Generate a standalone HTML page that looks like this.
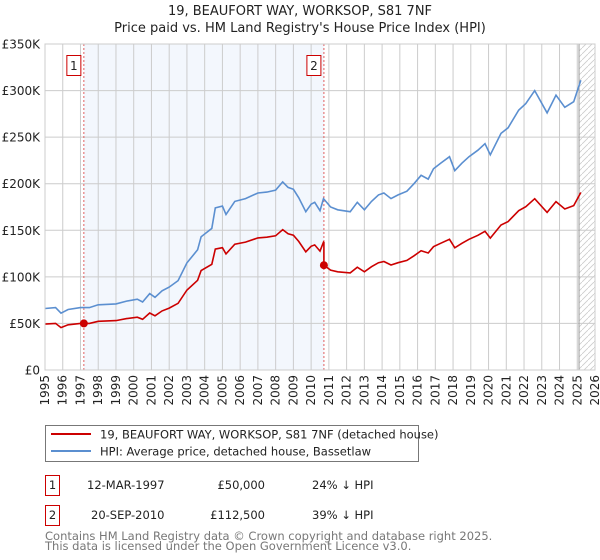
<!DOCTYPE html>
<html><head><meta charset="utf-8">
<style>
body{margin:0;background:#fff;font-family:"DejaVu Sans","Liberation Sans",sans-serif;}
svg{display:block}
text{font-family:"DejaVu Sans","Liberation Sans",sans-serif;}
</style></head>
<body>
<svg id="chart" width="600" height="560" viewBox="0 0 600 560">
<g id="title">
<text x="300" y="15" text-anchor="middle" font-size="13" fill="#222">19, BEAUFORT WAY, WORKSOP, S81 7NF</text>
<text x="300" y="32" text-anchor="middle" font-size="13" fill="#222">Price paid vs. HM Land Registry's House Price Index (HPI)</text>
</g>
<g id="plot"></g>
<g id="legend">
<rect x="45.5" y="425.5" width="373" height="36" fill="#fff" stroke="#777"/>
<line x1="51" y1="434" x2="91" y2="434" stroke="#cc0000" stroke-width="2"/>
<text x="100" y="438.5" font-size="11.5" fill="#222">19, BEAUFORT WAY, WORKSOP, S81 7NF (detached house)</text>
<line x1="51" y1="451" x2="91" y2="451" stroke="#5b8fd0" stroke-width="2"/>
<text x="100" y="455.5" font-size="11.5" fill="#222">HPI: Average price, detached house, Bassetlaw</text>
</g>
<g id="table" font-size="11.5" fill="#222">
<rect x="45.5" y="475.5" width="14" height="20" fill="#fff" stroke="#cc0000"/>
<text x="52.5" y="489" text-anchor="middle">1</text>
<text x="87" y="489">12-MAR-1997</text>
<text x="265" y="489" text-anchor="end">£50,000</text>
<text x="312" y="489">24% ↓ HPI</text>
<rect x="45.5" y="505.5" width="14" height="20" fill="#fff" stroke="#cc0000"/>
<text x="52.5" y="519" text-anchor="middle">2</text>
<text x="91" y="519">20-SEP-2010</text>
<text x="265" y="519" text-anchor="end">£112,500</text>
<text x="312" y="519">39% ↓ HPI</text>
</g>
<g font-size="11.5" fill="#777">
<text x="45" y="540">Contains HM Land Registry data © Crown copyright and database right 2025.</text>
<text x="45" y="550">This data is licensed under the Open Government Licence v3.0.</text>
</g>
</svg>
<script>
const yearTicks=[1995,1996,1997,1998,1999,2000,2001,2002,2003,2004,2005,2006,2007,2008,2009,2010,2011,2012,2013,2014,2015,2016,2017,2018,2019,2020,2021,2022,2023,2024,2025,2026];
const priceTicks=[0,50000,100000,150000,200000,250000,300000,350000];
const priceTickLabels=["£0","£50K","£100K","£150K","£200K","£250K","£300K","£350K"];
const hpiYears=[1995.0,1995.6,1995.9,1996.3,1997.0,1997.5,1998.0,1999.0,1999.6,2000.2,2000.5,2000.9,2001.2,2001.6,2002.0,2002.5,2003.0,2003.6,2003.8,2004.4,2004.6,2005.0,2005.2,2005.7,2006.3,2007.0,2007.5,2008.0,2008.4,2008.7,2009.0,2009.3,2009.7,2010.0,2010.2,2010.5,2010.7,2011.1,2011.5,2012.2,2012.6,2013.0,2013.4,2013.8,2014.1,2014.5,2014.9,2015.4,2015.8,2016.2,2016.6,2016.9,2017.3,2017.8,2018.1,2018.5,2018.9,2019.4,2019.8,2020.1,2020.7,2021.1,2021.7,2022.1,2022.6,2023.3,2023.8,2024.3,2024.8,2025.2];
const hpiValues=[66,67,61,65,67,67,70,71,74,76,73,82,78,85,89,96,115,129,143,152,174,176,167,181,184,190,191,193,202,196,194,185,170,178,180,171,184,175,172,170,180,172,181,188,190,184,188,192,200,209,205,216,222,229,214,222,229,236,243,231,254,260,279,286,300,276,295,282,288,311];
const saleYears=[1997.19,2010.72];
const salePrices=[50000,112500];
const saleLabels=["1","2"];
const X0=45,X1=595,Y0=370,Y1=44;
const xS=y=>X0+(y-1995)/(2026-1995)*(X1-X0);
const yS=v=>Y0-v/350000*(Y0-Y1);
const NS="http://www.w3.org/2000/svg";
const plot=document.getElementById('plot');
function mk(tag,attrs,parent){const e=document.createElementNS(NS,tag);for(const k in attrs)e.setAttribute(k,attrs[k]);(parent||plot).appendChild(e);return e;}
function hpiAt(t){for(let i=0;i<hpiYears.length-1;i++){if(t>=hpiYears[i]&&t<=hpiYears[i+1]){const f=(t-hpiYears[i])/(hpiYears[i+1]-hpiYears[i]);return hpiValues[i]+f*(hpiValues[i+1]-hpiValues[i]);}}return hpiValues[hpiValues.length-1];}
const sh=mk('rect',{x:xS(saleYears[0]),y:Y1,width:xS(saleYears[1])-xS(saleYears[0]),height:Y0-Y1,fill:'#eef3fc',opacity:0.7});


const defs=mk('defs',{});
const pat=mk('pattern',{id:'hatch',width:6,height:6,patternUnits:'userSpaceOnUse'},defs);
mk('path',{d:'M0,6 L6,0',stroke:'#ccc','stroke-width':0.8},pat);
const ht=mk('rect',{x:xS(2025.1),y:Y1,width:X1-xS(2025.1),height:Y0-Y1,fill:'url(#hatch)'});


yearTicks.forEach((yr,i)=>{
 const g=mk('line',{x1:xS(yr),x2:xS(yr),y1:Y1,y2:Y0,stroke:'#cccccc'});
 
 
 const x=xS(yr)+4;
 const t=mk('text',{x:0,y:0,transform:`translate(${x},375) rotate(-90)`,'text-anchor':'end','font-size':12,fill:'#222'});
 t.textContent=yr;
 
 
});
priceTicks.forEach((v,i)=>{
 const g=mk('line',{x1:X0,x2:X1,y1:yS(v),y2:yS(v),stroke:'#cccccc'});
 
 
 const t=mk('text',{x:40,y:yS(v)+4.5,'text-anchor':'end','font-size':12,fill:'#222'});
 t.textContent=priceTickLabels[i];
 
 
});
mk('line',{x1:xS(2025.1),x2:xS(2025.1),y1:Y1,y2:Y0,stroke:'#999','stroke-width':1});
saleYears.forEach((yr,i)=>{
 const l=mk('line',{x1:xS(yr),x2:xS(yr),y1:Y1,y2:Y0,stroke:'#e06060','stroke-dasharray':'2,2','stroke-width':1});
 
 
 const b=mk('rect',{x:xS(yr)-17,y:55.5,width:14,height:20,fill:'#fff',stroke:'#cc0000'});
 
 
 const t=mk('text',{x:xS(yr)-10,y:70,'text-anchor':'middle','font-size':12,fill:'#222'});
 t.textContent=saleLabels[i];
});
let d='';
hpiYears.forEach((yr,i)=>{d+=(i?'L':'M')+xS(yr).toFixed(1)+','+yS(hpiValues[i]*1000).toFixed(1);});
const hl=mk('path',{d:d,fill:'none',stroke:'#5b8fd0','stroke-width':1.6});


const f0=salePrices[0]/(hpiAt(saleYears[0])*1000), f1=salePrices[1]/(hpiAt(saleYears[1])*1000);
let pd='';let first=true;
hpiYears.forEach((yr,i)=>{
 if(yr<saleYears[1]){pd+=(first?'M':'L')+xS(yr).toFixed(1)+','+yS(hpiValues[i]*1000*f0).toFixed(1);first=false;}
});
pd+='L'+xS(saleYears[1]).toFixed(1)+','+yS(hpiAt(saleYears[1])*1000*f0).toFixed(1);
pd+='L'+xS(saleYears[1]).toFixed(1)+','+yS(salePrices[1]).toFixed(1);
hpiYears.forEach((yr,i)=>{
 if(yr>saleYears[1]) pd+='L'+xS(yr).toFixed(1)+','+yS(hpiValues[i]*1000*f1).toFixed(1);
});
const pl=mk('path',{d:pd,fill:'none',stroke:'#cc0000','stroke-width':1.6});


saleYears.forEach((yr,i)=>{
 const c=mk('circle',{cx:xS(yr),cy:yS(salePrices[i]),r:4,fill:'#cc0000'});
 
 
});
mk('rect',{x:X0,y:Y1,width:X1-X0,height:Y0-Y1,fill:'none',stroke:'#cccccc'});
</script>
</body></html>
